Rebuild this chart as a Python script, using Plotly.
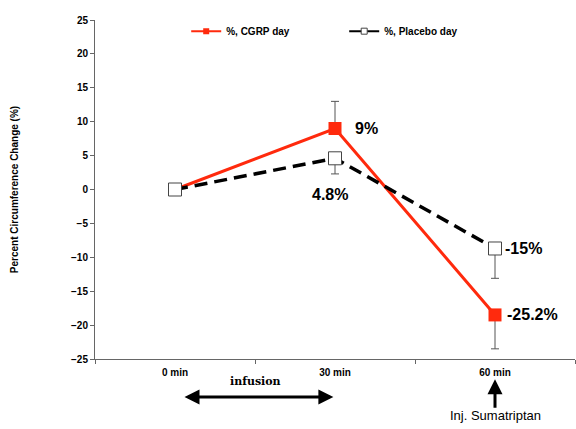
import plotly.graph_objects as go

categories = ["0 min", "30 min", "60 min"]
cgrp = [0, 9, -18.5]
cgrp_err_plus = [0, 4, 0]
cgrp_err_minus = [0, 0, 5]
placebo = [0, 4.6, -8.7]
placebo_err_plus = [0, 0, 0]
placebo_err_minus = [0, 2.3, 4.4]
cgrp_labels = ["", "9%", "-25.2%"]
placebo_labels = ["", "4.8%", "-15%"]

F = "Liberation Sans, Arial, sans-serif"
RED = "#ff2a0d"

fig = go.Figure()
fig.add_trace(go.Scatter(
    x=categories, y=cgrp, name="%, CGRP day", mode="lines+markers", showlegend=False,
    line=dict(color=RED, width=3),
    marker=dict(symbol="square", size=13, color=RED, line=dict(color=RED, width=0)),
    error_y=dict(type="data", symmetric=False, array=cgrp_err_plus, arrayminus=cgrp_err_minus,
                 color="#555555", thickness=1, width=4),
))
fig.add_trace(go.Scatter(
    x=categories, y=placebo, name="%, Placebo day", mode="lines+markers", showlegend=False,
    line=dict(color="black", width=3.5, dash="13px,7px"),
    marker=dict(symbol="square", size=13, color="white", line=dict(color="#444444", width=1)),
    error_y=dict(type="data", symmetric=False, array=placebo_err_plus, arrayminus=placebo_err_minus,
                 color="#555555", thickness=1, width=4),
))
# legend entries (small markers as in the reference legend)
fig.add_trace(go.Scatter(x=[None], y=[None], name="%, CGRP day", mode="lines+markers",
                         line=dict(color=RED, width=2),
                         marker=dict(symbol="square", size=6, color=RED)))
fig.add_trace(go.Scatter(x=[None], y=[None], name="%, Placebo day", mode="lines+markers",
                         line=dict(color="black", width=2),
                         marker=dict(symbol="square", size=6, color="white", line=dict(color="#444444", width=1))))

LF = dict(family=F, size=16, color="black", weight="bold")
for i, (cat, v, t) in enumerate(zip(categories, cgrp, cgrp_labels)):
    if t:
        fig.add_annotation(x=cat, y=v, text=t, showarrow=False, xanchor="left",
                           xshift=18 if i == 1 else 10, font=LF)
for i, (cat, v, t) in enumerate(zip(categories, placebo, placebo_labels)):
    if not t:
        continue
    if i == 1:
        fig.add_annotation(x=cat, y=v, text=t, showarrow=False, xanchor="center",
                           xshift=-5, yshift=-36, font=LF)
    else:
        fig.add_annotation(x=cat, y=v, text=t, showarrow=False, xanchor="left",
                           xshift=8, font=LF)

# infusion text & arrow
fig.add_annotation(x=0.5, y=-0.065, xref="x", yref="paper", yanchor="middle", text="<b>infusion</b>",
                   showarrow=False,
                   font=dict(family="DejaVu Serif, Liberation Serif, serif", size=11, color="black"))
fig.add_annotation(x=0.99, y=-0.112, xref="x", yref="paper", ax=0.05, ay=0, axref="x", ayref="pixel",
                   text="", showarrow=True, arrowhead=2, arrowside="end+start", arrowsize=1,
                   arrowwidth=3, arrowcolor="black")
# sumatriptan arrow
fig.add_annotation(x=2, y=-0.06, xref="x", yref="paper", ax=0, ay=30,
                   text="", showarrow=True, arrowhead=2, arrowsize=1, arrowwidth=3, arrowcolor="black")
fig.add_annotation(x=2, y=-0.168, xref="x", yref="paper", text="Inj. Sumatriptan", showarrow=False,
                   yanchor="middle", font=dict(family=F, size=13, color="black"))

fig.update_layout(
    width=576, height=429,
    margin=dict(l=95, r=1, t=20, b=70),
    paper_bgcolor="white", plot_bgcolor="white",
    font=dict(family=F, color="black"),
    showlegend=True,
    legend=dict(orientation="h", x=0.19, y=0.967, xanchor="left", yanchor="middle",
                font=dict(family=F, size=10, weight="bold"), bgcolor="rgba(0,0,0,0)",
                entrywidth=113),
    xaxis=dict(type="category", range=[-0.5, 2.5], showgrid=False, showline=True,
               linecolor="#666666", linewidth=1, ticks="outside", tickson="boundaries",
               ticklen=4, tickcolor="#666666", ticklabelstandoff=4,
               tickfont=dict(family=F, size=10, weight="bold"), mirror=False),
    yaxis=dict(range=[-25, 25], dtick=5, showgrid=False, zeroline=False, showline=True,
               linecolor="#666666", linewidth=1, ticks="outside", ticklen=4, tickcolor="#666666",
               tickfont=dict(family=F, size=10, weight="bold"),
               title=dict(text="Percent Circumference Change (%)",
                          font=dict(family=F, size=10, weight="bold"), standoff=50)),
)

fig.write_html("out.html")
